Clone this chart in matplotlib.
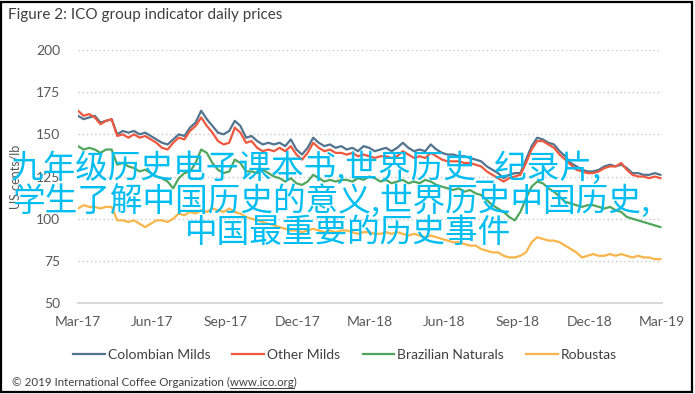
import numpy as np
import pandas as pd
import matplotlib
matplotlib.use("Agg")
import matplotlib.pyplot as plt
import matplotlib.dates as mdates
from matplotlib.patches import Rectangle

# weekly readings, Mar 2017 - Mar 2019 (US cents/lb)
dates = pd.date_range("2017-03-01", periods=105, freq="7D")

colombian = [161, 159, 160, 161, 157, 158, 159, 150, 152, 151,
             152, 150, 151, 149, 147, 145, 144, 147, 150, 149,
             154, 157, 164, 159, 155, 151, 150, 152, 158, 155,
             148, 149, 146, 144, 145, 144, 145, 143, 147, 141,
             138, 142, 148, 145, 143, 144, 142, 143, 141, 142,
             140, 143, 142, 140, 141, 142, 140, 142, 145, 142,
             140, 141, 140, 144, 141, 139, 138, 138, 137, 137,
             136, 135, 134, 131, 129, 127, 124, 126, 127, 127,
             135, 143, 148, 147, 145, 144, 140, 137, 133, 131,
             129, 128, 128, 129, 131, 132, 131, 132, 130, 127,
             127, 126, 126, 127, 126]

other_milds = [164, 161, 162, 160, 156, 158, 159, 149, 150, 148,
               150, 148, 149, 147, 145, 142, 141, 145, 148, 147,
               152, 155, 160, 155, 151, 146, 144, 145, 154, 151,
               145, 146, 142, 140, 141, 140, 142, 140, 143, 138,
               135, 139, 145, 142, 140, 141, 139, 139, 138, 139,
               137, 138, 137, 136, 137, 137, 136, 137, 140, 138,
               136, 137, 136, 139, 137, 135, 134, 134, 134, 133,
               133, 132, 131, 128, 126, 124, 122, 124, 125, 126,
               133, 141, 146, 146, 144, 142, 138, 135, 132, 129,
               128, 127, 127, 128, 130, 131, 131, 133, 129, 126,
               125, 125, 124, 125, 124]

brazilian = [143, 141, 142, 141, 139, 141, 141, 132, 133, 131,
             130, 128, 129, 127, 125, 124, 122, 118, 124, 127,
             128, 133, 141, 139, 133, 129, 127, 128, 135, 133,
             128, 128, 127, 129, 127, 125, 124, 122, 124, 121,
             120, 122, 126, 124, 122, 123, 122, 123, 123, 122,
             124, 123, 125, 124, 122, 123, 121, 122, 123, 121,
             122, 121, 123, 122, 120, 119, 118, 117, 118, 116,
             117, 115, 114, 111, 108, 106, 104, 101, 99, 104,
             112, 119, 122, 121, 118, 116, 113, 110, 109, 108,
             107, 108, 108, 107, 106, 107, 105, 104, 101, 100,
             99, 98, 97, 96, 95]

robustas = [106, 108, 107, 107, 106, 107, 107, 99, 99, 98,
            99, 97, 95, 97, 99, 99, 98, 100, 103, 102,
            104, 103, 105, 104, 106, 105, 104, 106, 104, 103,
            101, 100, 99, 98, 97, 96, 95, 94, 93, 93,
            92, 93, 94, 93, 92, 93, 92, 93, 93, 92,
            91, 92, 92, 91, 91, 92, 91, 92, 91, 90,
            91, 90, 89, 90, 89, 88, 87, 86, 86, 85,
            84, 84, 82, 81, 80, 80, 78, 77, 77, 78,
            80, 86, 89, 88, 87, 87, 86, 84, 82, 80,
            77, 78, 79, 78, 78, 79, 78, 79, 78, 77,
            78, 77, 77, 76, 76]

series_names = ["Colombian Milds", "Other Milds", "Brazilian Naturals", "Robustas"]
series_colors = ["#52748F", "#F0583E", "#4FA65C", "#F9B54A"]
y_ticks = [50, 75, 100, 125, 150, 175, 200]

overlay_lines = ["九年级历史电子课本书,世界历史_纪录片,",
                 "学生了解中国历史的意义,世界历史中国历史,",
                 "中国最重要的历史事件"]

plt.rcParams["font.family"] = ["Lato", "DejaVu Sans"]

fig = plt.figure(figsize=(6.95, 3.94), dpi=100)
ax = fig.add_axes([78 / 695, 1 - 303 / 394, 584 / 695, 253 / 394])

for vals, name, col in zip([colombian, other_milds, brazilian, robustas],
                           series_names, series_colors):
    ax.plot(dates, vals, color=col, lw=1.6, label=name)

ax.set_ylim(50, 200)
ax.set_xlim(pd.Timestamp("2017-03-01"), pd.Timestamp("2019-03-01"))
ax.set_yticks(y_ticks)
ax.xaxis.set_major_locator(mdates.MonthLocator(bymonth=[3, 6, 9, 12]))
ax.xaxis.set_major_formatter(mdates.DateFormatter("%b-%y"))
ax.tick_params(length=0, labelsize=10, labelcolor="#595959")
ax.tick_params(axis="y", pad=13)
ax.tick_params(axis="x", pad=9)
for tick_val in y_ticks[1:]:
    ax.axhline(tick_val, color="#C8C8C8", lw=1, ls=(0, (1, 2)), zorder=0)
for s in ["top", "right", "left"]:
    ax.spines[s].set_visible(False)
ax.spines["bottom"].set_color("#D9D9D9")
ax.spines["bottom"].set_linewidth(1.5)
ax.set_ylabel("US cents/lb", fontsize=9, color="#595959", labelpad=10)

fig.text(8 / 695, 1 - 15 / 394, "Figure 2: ICO group indicator daily prices",
         fontsize=11, color="#404040", va="center")

fig.legend(loc="center", bbox_to_anchor=(345 / 695, 1 - 355 / 394), ncol=4,
           frameon=False, fontsize=10, handlelength=2.3, handletextpad=0.2,
           columnspacing=1.6, labelcolor="#404040")

cred_size = 8.3
cred_y = 1 - 382 / 394
fig.text(12 / 695, cred_y, "© 2019 International Coffee Organization (www.ico.org)",
         fontsize=cred_size, color="#404040", va="center")
fig.canvas.draw()
r = fig.canvas.get_renderer()
pre = fig.text(12 / 695, cred_y, "© 2019 International Coffee Organization (",
               fontsize=cred_size, va="center", alpha=0)
url = fig.text(12 / 695, cred_y, "www.ico.org", fontsize=cred_size, va="center", alpha=0)
bb_pre = pre.get_window_extent(r)
bb_url = url.get_window_extent(r)
x0 = bb_pre.x1 / fig.bbox.width
x1 = (bb_pre.x1 + bb_url.width) / fig.bbox.width
fig.add_artist(plt.Line2D([x0, x1], [1 - 388 / 394] * 2, color="#404040", lw=0.7))

# black frame round the whole picture
fig.add_artist(Rectangle((0.002, 0.004), 0.994, 0.992, transform=fig.transFigure,
                         fill=False, edgecolor="black", lw=1.6))

cjk = ["Noto Sans CJK SC", "DejaVu Sans"]
cjk_size = 23.5
fig.text(11 / 695, 1 - 168.5 / 394, overlay_lines[0], family=cjk, fontsize=cjk_size,
         weight="medium", color="#00BDF2", va="center", ha="left")
fig.text(12 / 695, 1 - 201 / 394, overlay_lines[1], family=cjk, fontsize=cjk_size,
         weight="medium", color="#00BDF2", va="center", ha="left")
fig.text(185 / 695, 1 - 233 / 394, overlay_lines[2], family=cjk, fontsize=cjk_size,
         weight="medium", color="#00BDF2", va="center", ha="left")

fig.savefig("out.png", dpi=100)
